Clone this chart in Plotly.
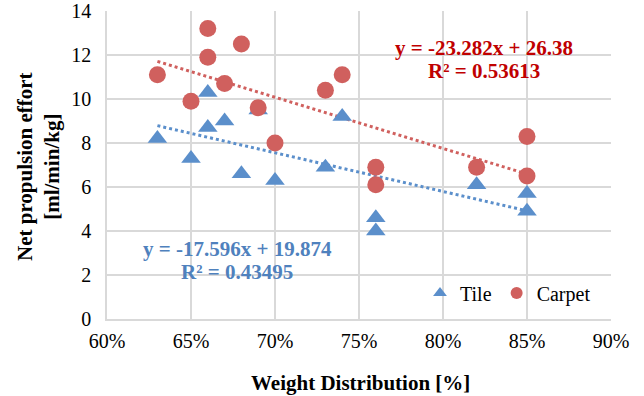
import plotly.graph_objects as go

tile_x = [0.63, 0.65, 0.66, 0.66, 0.67, 0.68, 0.69, 0.70, 0.73, 0.74, 0.76, 0.76, 0.82, 0.85, 0.85]
tile_y = [8.2, 7.3, 10.3, 8.7, 9.0, 6.6, 9.5, 6.3, 6.9, 9.2, 4.6, 4.0, 6.1, 5.7, 4.9]
carpet_x = [0.63, 0.65, 0.66, 0.66, 0.67, 0.68, 0.69, 0.70, 0.73, 0.74, 0.76, 0.76, 0.82, 0.85, 0.85]
carpet_y = [11.1, 9.9, 13.2, 11.9, 10.7, 12.5, 9.6, 8.0, 10.4, 11.1, 6.9, 6.1, 6.9, 8.3, 6.5]

tile_fit = (-17.596, 19.874, 0.43495)
carpet_fit = (-23.282, 26.38, 0.53613)

x_ticks = [0.60, 0.65, 0.70, 0.75, 0.80, 0.85, 0.90]
y_ticks = [0, 2, 4, 6, 8, 10, 12, 14]

BLUE = "#5B8FCB"
RED = "#D0605E"
BLUE_TXT = "#4F81BD"
RED_TXT = "#C00000"
FONT = "Liberation Serif"

W, H = 644, 396
L, R, T, B = 107, 33, 11, 77
PW, PH = W - L - R, H - T - B

def px_to_paper(xp, yp):
    return (xp - L) / PW, (H - B - yp) / PH

def trend(xs, fit):
    x0, x1 = min(xs), max(xs)
    return [x0, x1], [fit[0] * x0 + fit[1], fit[0] * x1 + fit[1]]

fig = go.Figure()
tx, ty = trend(tile_x, tile_fit)
cx, cy = trend(carpet_x, carpet_fit)
fig.add_trace(go.Scatter(x=tx, y=ty, mode="lines", showlegend=False,
                         line=dict(color=BLUE, width=3, dash="dot"), hoverinfo="skip"))
fig.add_trace(go.Scatter(x=cx, y=cy, mode="lines", showlegend=False,
                         line=dict(color=RED, width=3, dash="dot"), hoverinfo="skip"))
fig.add_trace(go.Scatter(x=tile_x, y=tile_y, mode="markers", name="Tile",
                         marker=dict(symbol="triangle-up", size=17, color=BLUE)))
fig.add_trace(go.Scatter(x=carpet_x, y=carpet_y, mode="markers", name="Carpet",
                         marker=dict(symbol="circle", size=17, color=RED)))

def text_at(xp, yp, text, color, size=21, angle=0):
    ax, ay = px_to_paper(xp, yp)
    fig.add_annotation(x=ax, y=ay, xref="paper", yref="paper", showarrow=False,
                       xanchor="center", yanchor="middle", textangle=angle,
                       text=text, font=dict(family=FONT, size=size, color=color))

# trendline equations
text_at(484, 48, "<b>y = %.3fx + %s</b>" % (carpet_fit[0], carpet_fit[1]), RED_TXT)
text_at(484, 71, "<b>R² = %.5f</b>" % carpet_fit[2], RED_TXT)
text_at(237, 249, "<b>y = %.3fx + %.3f</b>" % (tile_fit[0], tile_fit[1]), BLUE_TXT)
text_at(237, 272, "<b>R² = %.5f</b>" % tile_fit[2], BLUE_TXT)

# axis titles
text_at(38, 167, "<b>Net propulsion effort<br>[ml/min/kg]</b>", "#000000", angle=-90)
text_at(360, 383, "<b>Weight Distribution [%]</b>", "#000000")

fig.update_layout(
    width=W, height=H,
    margin=dict(l=L, r=R, t=T, b=B, autoexpand=False),
    paper_bgcolor="white", plot_bgcolor="white",
    font=dict(family=FONT, size=20, color="#000000"),
    showlegend=True,
    legend=dict(orientation="h", x=px_to_paper(420, 0)[0], y=px_to_paper(0, 293)[1],
                xanchor="left", yanchor="middle",
                font=dict(family=FONT, size=20), bgcolor="rgba(0,0,0,0)",
                itemsizing="constant"),
    xaxis=dict(range=[0.60, 0.90], tickvals=x_ticks,
               ticktext=["%d%%" % round(v * 100) for v in x_ticks],
               showgrid=True, gridcolor="#D9D9D9", gridwidth=1.5,
               showline=True, linecolor="#D9D9D9", linewidth=1.5, zeroline=False,
               ticks="outside", ticklen=3, tickcolor="rgba(0,0,0,0)",
               tickfont=dict(family=FONT, size=20), automargin=False),
    yaxis=dict(range=[0, 14], tickvals=y_ticks,
               showgrid=True, gridcolor="#D9D9D9", gridwidth=1.5,
               showline=True, linecolor="#D9D9D9", linewidth=1.5, zeroline=False,
               ticks="outside", ticklen=10, tickcolor="rgba(0,0,0,0)",
               tickfont=dict(family=FONT, size=20), automargin=False),
)

fig.write_html("out.html", config={"displayModeBar": False},
               post_script="document.body.style.margin='0';document.body.style.overflow='hidden';")
